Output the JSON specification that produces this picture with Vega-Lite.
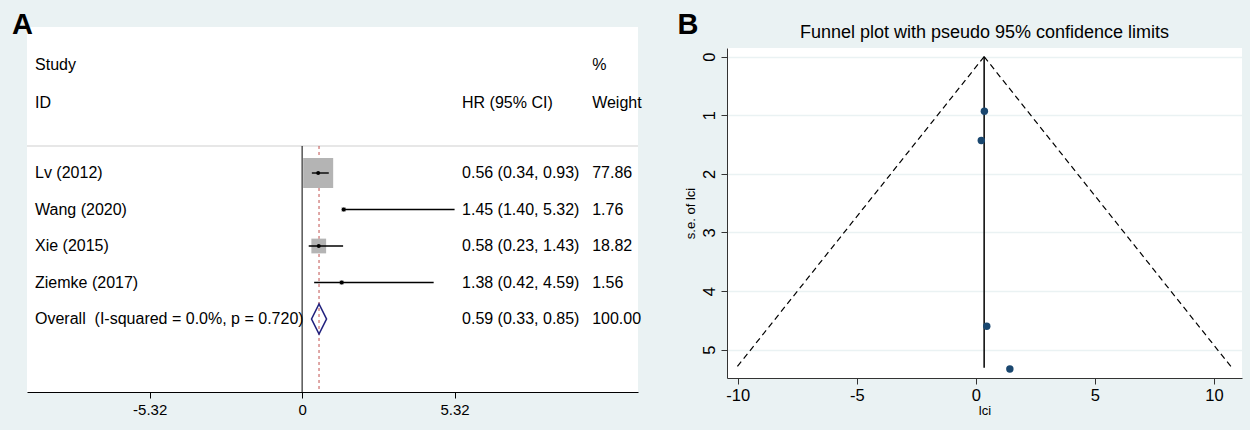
{
  "$schema": "https://vega.github.io/schema/vega-lite/v6.json",
  "background": "#eaf2f3",
  "padding": {"left": 12, "top": 10, "right": 8, "bottom": 12},
  "config": {
    "font": "Liberation Sans",
    "view": {"stroke": null},
    "axis": {"labelFont": "Liberation Sans", "titleFont": "Liberation Sans"},
    "title": {"font": "Liberation Sans"}
  },
  "datasets": {
    "forest": [
      {"study": "Lv (2012)", "kind": "study", "row": 4, "hr": 0.56, "lo": 0.34, "hi": 0.93, "weight": 77.86, "label": "0.56 (0.34, 0.93)"},
      {"study": "Wang (2020)", "kind": "study", "row": 5, "hr": 1.45, "lo": 1.40, "hi": 5.32, "weight": 1.76, "label": "1.45 (1.40, 5.32)"},
      {"study": "Xie (2015)", "kind": "study", "row": 6, "hr": 0.58, "lo": 0.23, "hi": 1.43, "weight": 18.82, "label": "0.58 (0.23, 1.43)"},
      {"study": "Ziemke (2017)", "kind": "study", "row": 7, "hr": 1.38, "lo": 0.42, "hi": 4.59, "weight": 1.56, "label": "1.38 (0.42, 4.59)"},
      {"study": "Overall \u00a0(I-squared = 0.0%, p = 0.720)", "kind": "overall", "row": 8, "hr": 0.59, "lo": 0.33, "hi": 0.85, "weight": 100.00, "label": "0.59 (0.33, 0.85)"}
    ],
    "funnel_lines": [
      {"limit": "lower", "lci": 0.35, "se": 0},
      {"limit": "lower", "lci": -10.02, "se": 5.29},
      {"limit": "upper", "lci": 0.35, "se": 0},
      {"limit": "upper", "lci": 10.72, "se": 5.29}
    ],
    "pooled": [
      {"lci": 0.35, "se_top": 0, "se_bottom": 5.31}
    ],
    "funnel_pts": [
      {"lci": 0.36, "se": 0.93},
      {"lci": 0.23, "se": 1.43},
      {"lci": 0.46, "se": 4.6},
      {"lci": 1.43, "se": 5.33}
    ]
  },
  "spacing": 89,
  "bounds": "flush",
  "hconcat": [
    {
      "width": 611,
      "height": 365,
      "view": {"fill": "white", "stroke": null},
      "data": {"name": "forest"},
      "layer": [
        {
          "data": {"values": [{}]},
          "mark": {"type": "rule", "color": "#cfcfcf", "strokeWidth": 1.2},
          "encoding": {
            "x": {"datum": -9.6, "type": "quantitative",
              "scale": {"domain": [-9.6, 11.72], "nice": false, "zero": false},
              "axis": {"values": [-5.32, 0, 5.32], "title": null, "grid": false,
                "domainColor": "#000000", "domainWidth": 1, "tickColor": "#000000", "tickSize": 6,
                "labelFontSize": 15, "labelColor": "#000000", "labelPadding": 4, "labelFlush": false,
                "labelExpr": "datum.value == 0 ? '0' : replace(format(datum.value, '.2f'), '\u2212', '-')"}},
            "x2": {"datum": 11.72},
            "y": {"datum": 3.26, "type": "quantitative",
              "scale": {"domain": [0, 10], "reverse": true, "nice": false, "zero": false},
              "axis": null}
          }
        },
        {
          "data": {"values": [{}]},
          "mark": {"type": "rule", "color": "#000000", "strokeWidth": 1},
          "encoding": {
            "x": {"datum": 0, "type": "quantitative"},
            "y": {"datum": 3.26, "type": "quantitative", "axis": null},
            "y2": {"datum": 10}
          }
        },
        {
          "transform": [{"filter": "datum.kind == 'overall'"}],
          "mark": {"type": "rule", "color": "#c0504d", "strokeDash": [3, 3], "strokeWidth": 1},
          "encoding": {
            "x": {"field": "hr", "type": "quantitative", "title": null},
            "y": {"datum": 3.26, "type": "quantitative", "axis": null},
            "y2": {"datum": 10}
          }
        },
        {
          "transform": [{"filter": "datum.kind == 'study'"}],
          "mark": {"type": "point", "shape": "square", "filled": true, "color": "#b4b4b4", "opacity": 1},
          "encoding": {
            "x": {"field": "hr", "type": "quantitative", "title": null},
            "y": {"field": "row", "type": "quantitative", "axis": null},
            "size": {"field": "weight", "type": "quantitative", "legend": null,
              "scale": {"type": "linear", "domain": [0, 100], "range": [0, 1156]}}
          }
        },
        {
          "transform": [{"filter": "datum.kind == 'study'"}],
          "mark": {"type": "rule", "color": "#000000", "strokeWidth": 1.4},
          "encoding": {
            "x": {"field": "lo", "type": "quantitative", "title": null},
            "x2": {"field": "hi"},
            "y": {"field": "row", "type": "quantitative", "axis": null}
          }
        },
        {
          "transform": [{"filter": "datum.kind == 'study'"}],
          "mark": {"type": "point", "shape": "circle", "filled": true, "color": "#000000", "opacity": 1, "size": 16},
          "encoding": {
            "x": {"field": "hr", "type": "quantitative", "title": null},
            "y": {"field": "row", "type": "quantitative", "axis": null}
          }
        },
        {
          "transform": [{"filter": "datum.kind == 'overall'"}],
          "mark": {"type": "point", "shape": "M-0.5,0L0,-1L0.5,0L0,1Z", "filled": false, "stroke": "#23237f", "strokeWidth": 1.6, "opacity": 1, "size": 900},
          "encoding": {
            "x": {"field": "hr", "type": "quantitative", "title": null},
            "y": {"field": "row", "type": "quantitative", "axis": null}
          }
        },
        {
          "mark": {"type": "text", "align": "left", "baseline": "middle", "fontSize": 16, "color": "#000000"},
          "encoding": {
            "x": {"datum": -9.32, "type": "quantitative"},
            "y": {"field": "row", "type": "quantitative", "axis": null},
            "text": {"field": "study"}
          }
        },
        {
          "mark": {"type": "text", "align": "left", "baseline": "middle", "fontSize": 16, "color": "#000000"},
          "encoding": {
            "x": {"datum": 5.58, "type": "quantitative"},
            "y": {"field": "row", "type": "quantitative", "axis": null},
            "text": {"field": "label"}
          }
        },
        {
          "mark": {"type": "text", "align": "left", "baseline": "middle", "fontSize": 16, "color": "#000000"},
          "encoding": {
            "x": {"datum": 10.12, "type": "quantitative"},
            "y": {"field": "row", "type": "quantitative", "axis": null},
            "text": {"field": "weight", "format": ".2f"}
          }
        },
        {
          "data": {"values": [{}]},
          "mark": {"type": "text", "text": "Study", "align": "left", "baseline": "middle", "fontSize": 16, "color": "#000000"},
          "encoding": {"x": {"datum": -9.32, "type": "quantitative"}, "y": {"datum": 1.05, "type": "quantitative", "axis": null}}
        },
        {
          "data": {"values": [{}]},
          "mark": {"type": "text", "text": "ID", "align": "left", "baseline": "middle", "fontSize": 16, "color": "#000000"},
          "encoding": {"x": {"datum": -9.32, "type": "quantitative"}, "y": {"datum": 2.07, "type": "quantitative", "axis": null}}
        },
        {
          "data": {"values": [{}]},
          "mark": {"type": "text", "text": "HR (95% CI)", "align": "left", "baseline": "middle", "fontSize": 16, "color": "#000000"},
          "encoding": {"x": {"datum": 5.58, "type": "quantitative"}, "y": {"datum": 2.07, "type": "quantitative", "axis": null}}
        },
        {
          "data": {"values": [{}]},
          "mark": {"type": "text", "text": "%", "align": "left", "baseline": "middle", "fontSize": 16, "color": "#000000"},
          "encoding": {"x": {"datum": 10.12, "type": "quantitative"}, "y": {"datum": 1.05, "type": "quantitative", "axis": null}}
        },
        {
          "data": {"values": [{}]},
          "mark": {"type": "text", "text": "Weight", "align": "left", "baseline": "middle", "fontSize": 16, "color": "#000000"},
          "encoding": {"x": {"datum": 10.12, "type": "quantitative"}, "y": {"datum": 2.07, "type": "quantitative", "axis": null}}
        },
        {
          "data": {"values": [{}]},
          "mark": {"type": "text", "text": "A", "align": "center", "baseline": "alphabetic", "fontSize": 29, "fontWeight": "bold", "color": "#000000"},
          "encoding": {"x": {"datum": -9.756, "type": "quantitative"}, "y": {"datum": 0.19, "type": "quantitative", "axis": null}}
        }
      ]
    },
    {
      "spacing": 0,
      "bounds": "flush",
      "vconcat": [
        {
          "width": 515,
          "height": 21,
          "data": {"values": [{}]},
          "mark": {"type": "text", "text": "B", "align": "center", "baseline": "alphabetic", "fontSize": 29, "fontWeight": "bold", "color": "#000000"},
          "encoding": {
            "x": {"datum": -12.09, "type": "quantitative", "scale": {"domain": [-10.45, 11.18], "nice": false, "zero": false}, "axis": null},
            "y": {"datum": 7, "type": "quantitative", "scale": {"domain": [0, 21], "reverse": true, "nice": false, "zero": false}, "axis": null}
          }
        },
        {
          "width": 515,
          "height": 330,
          "view": {"fill": "white", "stroke": null},
          "title": {"text": "Funnel plot with pseudo 95% confidence limits", "fontSize": 18, "fontWeight": "normal", "color": "#000000", "anchor": "middle", "offset": 6},
          "layer": [
            {
              "data": {"name": "funnel_lines"},
              "mark": {"type": "line", "color": "#000000", "strokeDash": [6, 4], "strokeWidth": 1.2},
              "encoding": {
                "x": {"field": "lci", "type": "quantitative", "title": "lci",
                  "scale": {"domain": [-10.45, 11.18], "nice": false, "zero": false},
                  "axis": {"values": [-10, -5, 0, 5, 10], "grid": false, "domainColor": "#333333", "tickColor": "#333333",
                    "tickSize": 6, "labelFontSize": 16.5, "labelColor": "#000000", "labelPadding": 3, "labelFlush": false,
                    "titleFontSize": 13, "titleFontWeight": "normal", "titleColor": "#000000", "titlePadding": 1,
                    "labelExpr": "replace(format(datum.value, 'd'), '\u2212', '-')"}},
                "y": {"field": "se", "type": "quantitative", "title": "s.e. of lci",
                  "scale": {"domain": [-0.148, 5.483], "reverse": true, "nice": false, "zero": false},
                  "axis": {"values": [0, 1, 2, 3, 4, 5], "grid": true, "gridColor": "#eaf2f3", "gridWidth": 1.5,
                    "domainColor": "#333333", "tickColor": "#333333", "tickSize": 6,
                    "labelAngle": 270, "labelAlign": "center", "labelBaseline": "bottom", "labelFontSize": 16.5,
                    "labelColor": "#000000", "labelPadding": 4, "labelFlush": false,
                    "labelExpr": "format(datum.value, 'd')",
                    "titleFontSize": 13, "titleFontWeight": "normal", "titleColor": "#000000", "titlePadding": 4}},
                "detail": {"field": "limit"},
                "order": {"field": "se"}
              }
            },
            {
              "data": {"name": "pooled"},
              "mark": {"type": "rule", "color": "#000000", "strokeWidth": 1.5},
              "encoding": {
                "x": {"field": "lci", "type": "quantitative", "title": "lci"},
                "y": {"field": "se_top", "type": "quantitative", "title": "s.e. of lci"},
                "y2": {"field": "se_bottom"}
              }
            },
            {
              "data": {"name": "funnel_pts"},
              "mark": {"type": "circle", "color": "#1a476f", "opacity": 1, "size": 55},
              "encoding": {
                "x": {"field": "lci", "type": "quantitative", "title": "lci"},
                "y": {"field": "se", "type": "quantitative", "title": "s.e. of lci"}
              }
            }
          ]
        }
      ]
    }
  ]
}
